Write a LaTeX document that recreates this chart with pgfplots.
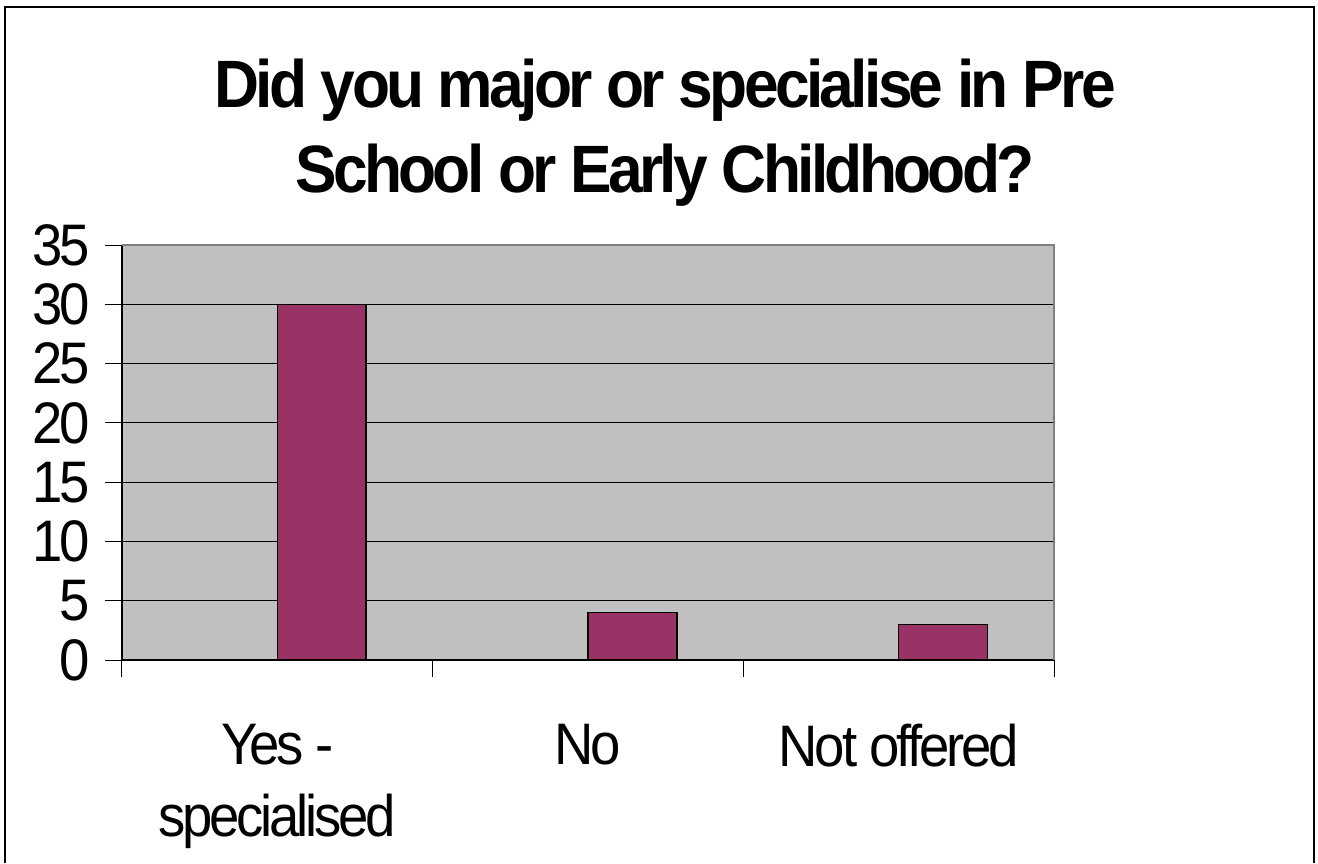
\documentclass[border=0pt]{standalone}
\usepackage{fontspec}
\setmainfont{Liberation Sans}[FakeStretch=0.93, LetterSpace=-5.5]
\usepackage{pgfplots}
\pgfplotsset{compat=1.18}
\definecolor{bg}{HTML}{C0C0C0}
\definecolor{barc}{HTML}{993366}
\definecolor{bord}{HTML}{808080}
\begin{document}
\begin{tikzpicture}
\useasboundingbox (0,0) rectangle (659pt,431.5pt);
\draw[line width=1pt] (2.5pt,0) -- (2.5pt,428pt) -- (657pt,428pt) -- (657pt,0);
\node[anchor=base, font=\bfseries\fontsize{33.5}{40}\selectfont, inner sep=0pt] at (332.5pt,377.5pt) {Did you major or specialise in Pre};
\node[anchor=base, font=\bfseries\fontsize{33.5}{40}\selectfont, inner sep=0pt] at (332.5pt,335pt) {School or Early Childhood?};
\begin{axis}[
  at={(61pt,101.5pt)}, anchor=south west,
  width=466pt, height=207.5pt, scale only axis,
  xmin=0.5, xmax=3.5, ymin=0, ymax=35,
  axis lines=left,
  axis line style={-, line width=0.6pt, black},
  axis background/.style={fill=bg},
  ytick={0,5,...,35},
  ymajorgrids, grid style={black, line width=0.5pt},
  tick align=outside,
  major tick length=8.5pt,
  tick style={black, line width=0.5pt},
  /pgf/number format/assume math mode=true,
  yticklabel style={font=\fontsize{29.3}{36}\selectfont, anchor=east, inner sep=0pt, xshift=-7.5pt},
  xtick={0.5,1.5,2.5,3.5},
  xticklabels={},
  extra x ticks={1,2,3},
  extra x tick labels={{Yes -\\specialised},{No},{Not offered}},
  extra x tick style={grid=none, tick style={draw=none},
    xticklabel style={font=\fontsize{29.3}{36}\selectfont, align=center, anchor=north, inner sep=0pt, yshift=-23.5pt}},
  clip=false,
]
\addplot[ybar, bar width=0.286, fill=barc, draw=black, line width=0.7pt] coordinates {(1.143,30) (2.143,4) (3.143,3)};
\draw[bord, line width=0.8pt] (rel axis cs:0,1) -- (rel axis cs:1,1) -- (rel axis cs:1,0);
\end{axis}
\end{tikzpicture}
\end{document}
